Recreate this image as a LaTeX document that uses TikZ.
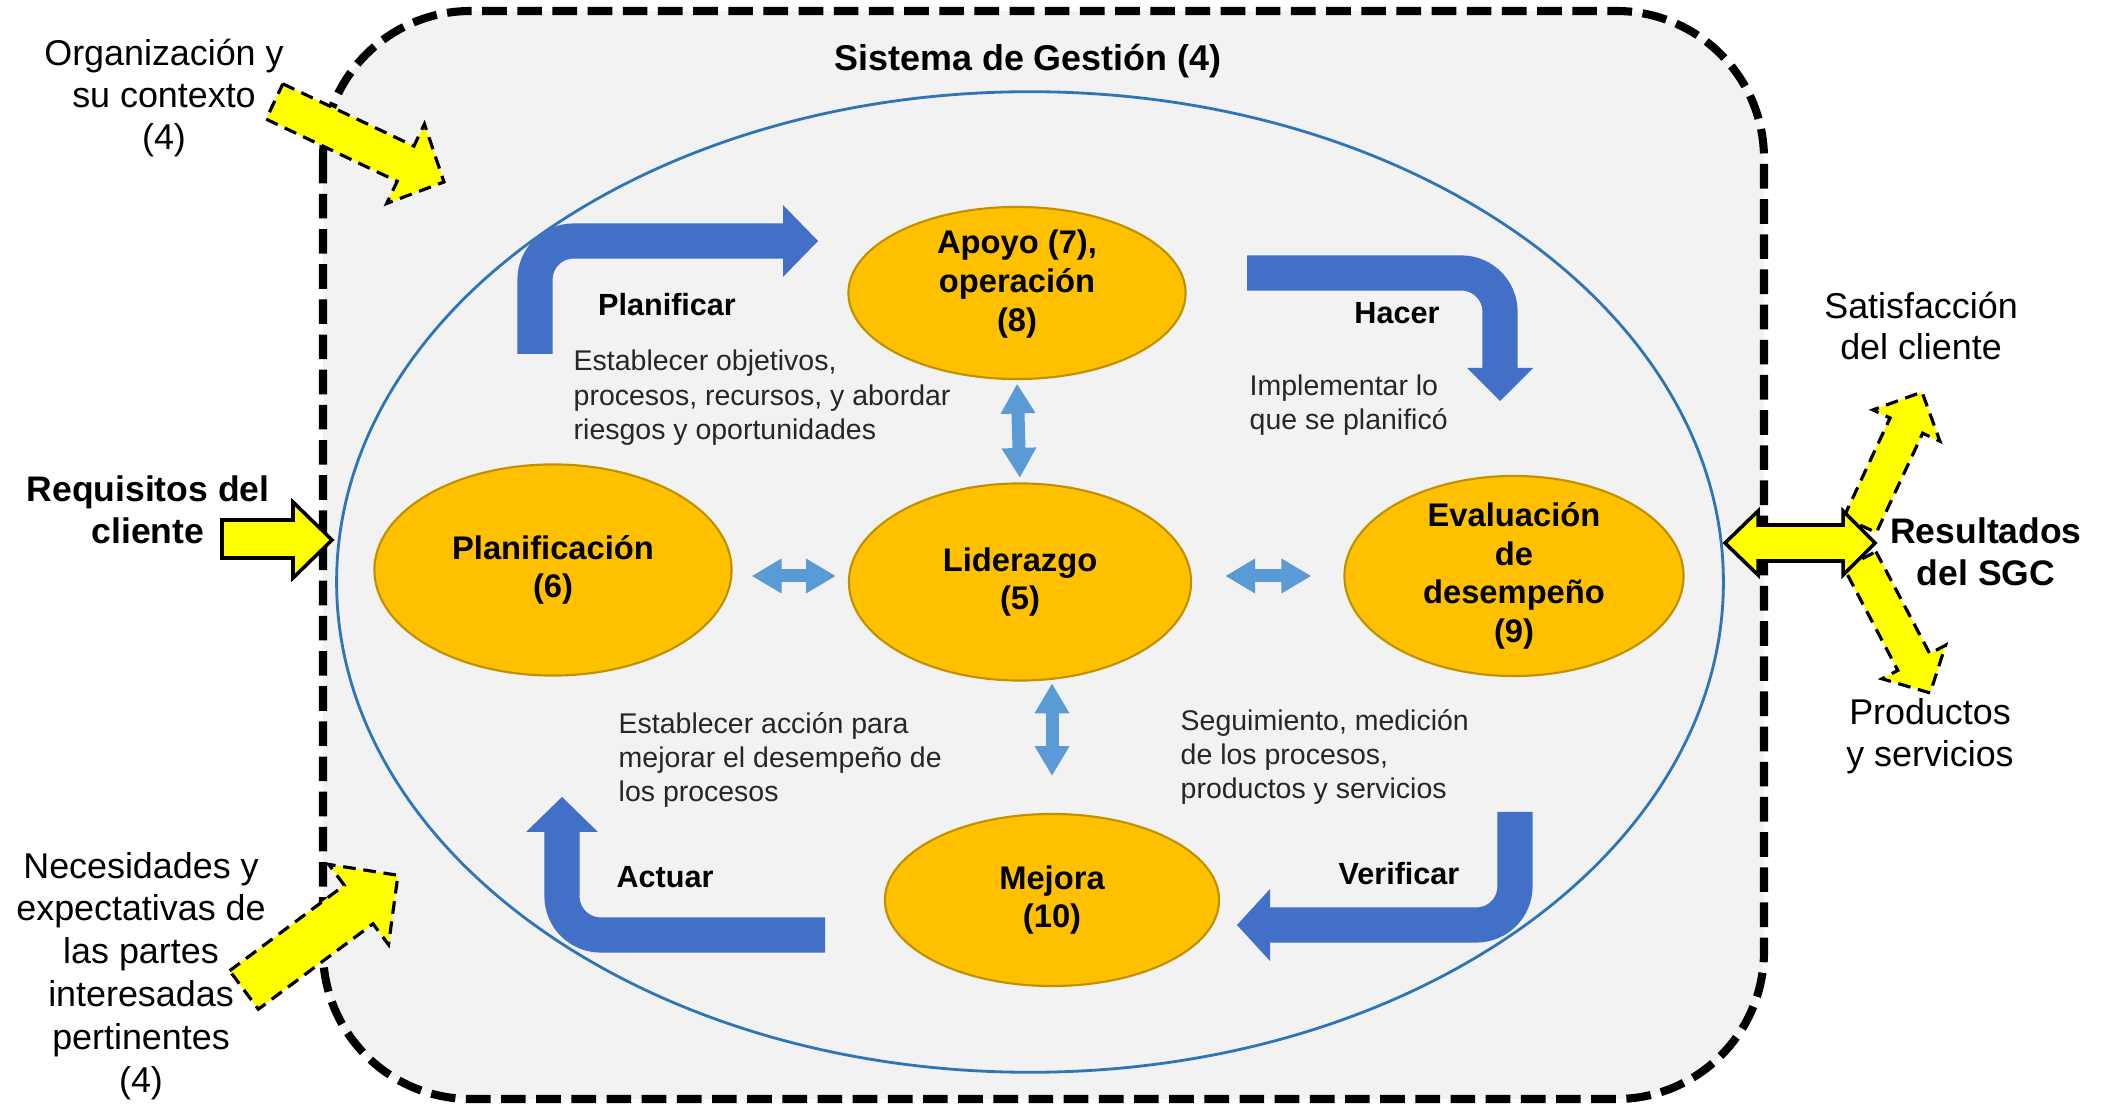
\documentclass[tikz,border=0pt]{standalone}
\usepackage{fontspec}
\setmainfont{Liberation Sans}
\usetikzlibrary{shapes.geometric,arrows.meta,calc}
\definecolor{boxfill}{RGB}{242,242,242}
\definecolor{ellblue}{RGB}{46,117,182}
\definecolor{orng}{RGB}{255,192,0}
\definecolor{orngd}{RGB}{191,144,0}
\definecolor{barrow}{RGB}{66,112,198}
\definecolor{lblue}{RGB}{91,155,213}
\definecolor{yel}{RGB}{255,255,0}
\definecolor{desctext}{RGB}{38,38,38}
\newcommand{\ydarrow}[7]{% #1 style, #2 tail, #3 angle, #4 length, #5 shaft half, #6 head half, #7 head length
  \begin{scope}[shift={#2}, rotate=#3]
    \draw[#1] (0,-#5) -- ({#4-#7},-#5) -- ({#4-#7},-#6) -- (#4,0) -- ({#4-#7},#6) -- ({#4-#7},#5) -- (0,#5) -- cycle;
  \end{scope}}
\begin{document}
\begin{tikzpicture}[x=0.01cm,y=-0.01cm,
  lbl/.style={font=\fontsize{10.2}{11.9}\selectfont, align=center, inner sep=0},
  blbl/.style={font=\bfseries\fontsize{10.1}{11.9}\selectfont, align=center, inner sep=0},
  desc/.style={font=\fontsize{8.1}{9.8}\selectfont, align=left, anchor=west, inner sep=0, text=desctext},
  phase/.style={font=\bfseries\fontsize{8.7}{10}\selectfont, inner sep=0},
  proc/.style={ellipse, fill=orng, draw=orngd, line width=0.6pt, inner sep=0},
  ptext/.style={font=\bfseries\fontsize{9.3}{11}\selectfont, align=center, inner sep=0},
  yarr/.style={fill=yel, draw=black, line width=0.9pt, dash pattern=on 3.6pt off 2.2pt, line join=miter},
  ysol/.style={fill=yel, draw=black, line width=1pt, line join=miter},
  bendarr/.style={draw=barrow, line width=10pt, rounded corners=11pt, line cap=butt},
  dbl/.style={draw=lblue, line width=3.7pt, {Triangle[length=8.5pt,width=9.3pt]}-{Triangle[length=8.5pt,width=9.3pt]}},
  outer/.style={fill=boxfill, draw=black, line width=2.3pt, dash pattern=on 7pt off 3pt, rounded corners=42pt}
]
\useasboundingbox (0,0) rectangle (2112,1107);
\fill[white] (0,0) rectangle (2112,1107);

% system box
\draw[outer] (323,11) rectangle (1764,1099);
\node[ellipse, draw=ellblue, line width=0.8pt, minimum width=13.86cm, minimum height=9.8cm, inner sep=0] (sysell) at (1030,582) {};
\node[font=\bfseries\fontsize{10.2}{12}\selectfont, inner sep=0] (title) at (1028,61) {Sistema de Gestión (4)};

% inputs on the left
\node[lbl] (org) at (164,98) {Organización y\\su contexto\\(4)};
\ydarrow{yarr}{(274.5,101.5)}{-25.4}{187.6}{19.5}{44}{42.5}
\node[blbl] (req) at (148,510) {Requisitos del\\cliente};
\coordinate (reqa) at (222,539);
\draw[ysol] (reqa) ++(0,-19) -- (293,520) -- (293,502) -- (332,540) -- (293,578) -- (293,558) -- (222,558) -- cycle;
\node[lbl, font=\fontsize{10.2}{12.2}\selectfont] (nec) at (141,976) {Necesidades y\\expectativas de\\las partes\\interesadas\\pertinentes\\(4)};
\ydarrow{yarr}{(244,990)}{36.7}{192}{24}{50}{49}

% outputs on the right
\node[lbl] (sat) at (1921,326) {Satisfacción\\del cliente};
\node[lbl] (prod) at (1930,736) {Productos\\y servicios};
\node[blbl] (res) at (1986,552) {Resultados\\del SGC};
\ydarrow{yarr}{(1860,525)}{65}{146.7}{18}{37}{37}
\ydarrow{yarr}{(1860,560)}{-62.2}{150.3}{18}{36}{35}
\coordinate (outl) at (1725,543);
\draw[ysol] (outl) -- (1758,511) -- (1758,525) -- (1843,525) -- (1843,511) -- (1875,543) -- (1843,575) -- (1843,561) -- (1758,561) -- (1758,575) -- cycle;

% process ellipses
\node[proc, minimum width=3.37cm, minimum height=1.72cm] (apoyo) at (1017,293) {};
\node[ptext] (apoyot) at (1017,284) {Apoyo (7),\\operación\\(8)};
\node[proc, minimum width=3.57cm, minimum height=2.11cm] (plan) at (553,570) {};
\node[ptext] (plant) at (plan) {Planificación\\(6)};
\node[proc, minimum width=3.42cm, minimum height=1.97cm] (lider) at (1020,582) {};
\node[ptext] (lidert) at (lider) {Liderazgo\\(5)};
\node[proc, minimum width=3.39cm, minimum height=2.0cm] (eval) at (1514,576) {};
\node[ptext] (evalt) at (eval) {Evaluación\\de\\desempeño\\(9)};
\node[proc, minimum width=3.34cm, minimum height=1.72cm] (mejora) at (1052,900) {};
\node[ptext] (mejorat) at (mejora) {Mejora\\(10)};

% small double arrows
\draw[dbl, shorten <=1pt, shorten >=1.3pt] (apoyo.south) -- (lider.north);
\draw[dbl, shorten <=0.5pt, shorten >=10.5pt] (lider.south -| mejora.north) -- (mejora.north);
\draw[dbl, shorten <=5.4pt, shorten >=3.4pt] (plan.east |- eval.west) -- (lider.west |- eval.west);
\draw[dbl, shorten <=9.4pt, shorten >=9.1pt] (lider.east |- eval.west) -- (eval.west);

% PDCA bent arrows
\coordinate (p1) at (535,354); \coordinate (p2) at (535,241); \coordinate (p3) at (783,241);
\draw[bendarr] (p1) -- (p2) -- (p3);
\fill[barrow] (783,205) -- (818,241) -- (783,277) -- cycle;
\coordinate (h1) at (1247,273); \coordinate (h2) at (1500,273); \coordinate (h3) at (1500,368);
\draw[bendarr] (h1) -- (h2) -- (h3);
\fill[barrow] (1467,368) -- (1500,401) -- (1533,368) -- cycle;
\coordinate (v1) at (1515,812); \coordinate (v2) at (1515,925); \coordinate (v3) at (1270,925);
\draw[bendarr] (v1) -- (v2) -- (v3);
\fill[barrow] (1270,889) -- (1237,925) -- (1270,961) -- cycle;
\coordinate (a1) at (825,935); \coordinate (a2) at (562,935); \coordinate (a3) at (562,832);
\draw[bendarr] (a1) -- (a2) -- (a3);
\fill[barrow] (526,832) -- (562,797) -- (598,832) -- cycle;

% phase labels
\node[phase] (lplan) at (667,305) {Planificar};
\node[phase] (lhacer) at (1397,313) {Hacer};
\node[phase] (lverif) at (1399,874) {Verificar};
\node[phase] (lact) at (665,877) {Actuar};

% descriptions
\node[desc] (d1) at (573,398) {Establecer objetivos,\\procesos, recursos, y abordar\\riesgos y oportunidades};
\node[desc] (d2) at (1249,405) {Implementar lo\\que se planificó};
\node[desc] (d3) at (618,760) {Establecer acción para\\mejorar el desempeño de\\los procesos};
\node[desc] (d4) at (1180,757) {Seguimiento, medición\\de los procesos,\\productos y servicios};
\end{tikzpicture}
\end{document}
